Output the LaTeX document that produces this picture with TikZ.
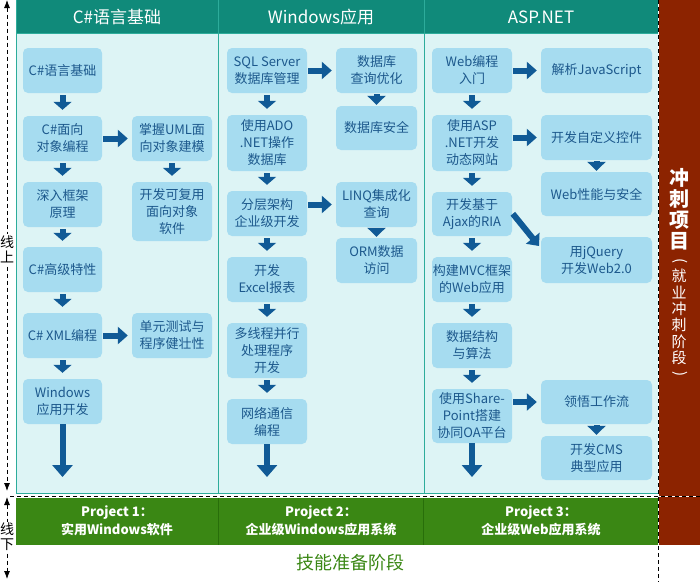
\documentclass[tikz,border=0pt]{standalone}
\usepackage{fontspec}
\setmainfont{Noto Sans CJK SC}
\usetikzlibrary{arrows.meta}
\definecolor{hdr}{RGB}{16,138,122}
\definecolor{bodyc}{RGB}{221,244,245}
\definecolor{colline}{RGB}{45,172,155}
\definecolor{boxc}{RGB}{166,220,240}
\definecolor{txtc}{RGB}{28,88,140}
\definecolor{arrc}{RGB}{16,90,150}
\definecolor{grn}{RGB}{58,135,20}
\definecolor{grnline}{RGB}{40,110,10}
\definecolor{sprint}{RGB}{140,35,0}
\newcommand\mybox[6]{\node[box,minimum width=#4pt,minimum height=#5pt] (#1) at (#2,#3) {#6};}
\begin{document}
\begin{tikzpicture}[x=1pt,y=-1pt,
  box/.style={fill=boxc, rounded corners=5pt, text=txtc, align=center, inner sep=0pt, font=\fontsize{13}{17}\selectfont},
  darr/.style={draw=arrc, line width=6pt, -{Triangle[length=8pt,width=18pt]}, shorten <=2pt, shorten >=6pt},
  tarr/.style={draw=arrc, line width=6pt, -{Triangle[length=9pt,width=18pt]}, shorten <=1pt, shorten >=1pt},
  rarr/.style={draw=arrc, line width=6pt, -{Triangle[length=10pt,width=17pt]}, shorten <=1pt, shorten >=4pt},
  larr/.style={draw=arrc, line width=6pt, -{Triangle[length=12pt,width=20pt]}},
  hdrtext/.style={text=white, font=\fontsize{17}{20}\selectfont},
  projtext/.style={text=white, align=center, font=\bfseries\fontsize{13}{18}\selectfont},
  axis/.style={draw=black, line width=0.8pt, dash pattern=on 4pt off 3pt, {Latex[length=8pt,width=6pt]}-{Latex[length=8pt,width=6pt]}},
  axistext/.style={fill=white, inner sep=1pt, align=center, font=\fontsize{14}{15}\selectfont},
  sprinttext/.style={text=white, align=center, inner sep=0pt, font=\fontsize{15}{16.4}\selectfont},
]
\useasboundingbox (0,0) rectangle (700,582);
% backgrounds
\fill[white] (0,0) rectangle (700,582);
\fill[hdr] (16,0) rectangle (658,33);
\fill[bodyc] (16,33) rectangle (658,493);
\draw[colline, line width=1pt] (16.5,0) -- (16.5,493) -- (658,493);
\draw[colline, line width=1pt] (16,33) -- (658,33);
\draw[colline, line width=1pt] (218,0) -- (218,493);
\draw[colline, line width=1pt] (424,0) -- (424,493);
\fill[grn] (16,498) rectangle (658,545);
\draw[grnline, line width=1pt] (218,498) -- (218,545);
\draw[grnline, line width=1pt] (423,498) -- (423,545);
\fill[sprint] (658,0) rectangle (700,545);
% dashed lines
\draw[white, line width=1pt] (10,496) -- (700,496);
\draw[black, line width=1pt, dash pattern=on 4pt off 3pt] (10,496) -- (700,496);
\draw[white, line width=1pt] (658,0) -- (658,582);
\draw[black, line width=1pt, dash pattern=on 4pt off 3pt] (658,0) -- (658,582);
% left axis
\coordinate (ax1) at (7,0);
\coordinate (ax2) at (7,491);
\coordinate (ax3) at (7,497);
\coordinate (ax4) at (7,579);
\draw[axis] (ax1) -- (ax2);
\draw[axis] (ax3) -- (ax4);
\node[axistext] (up) at (7,249) {线\\上};
\node[axistext] (down) at (7,537) {线\\下};
% headers
\node[hdrtext] (h1) at (117,17) {C\#语言基础};
\node[hdrtext] (h2) at (321,17) {Windows应用};
\node[hdrtext] (h3) at (541,17) {ASP.NET};
% column 1
\mybox{a1}{62.5}{70.5}{79}{45}{C\#语言基础}
\mybox{a2}{62.5}{138.5}{79}{45}{C\#面向\\对象编程}
\mybox{a3}{62.5}{204.5}{79}{45}{深入框架\\原理}
\mybox{a4}{62.5}{269.5}{79}{45}{C\#高级特性}
\mybox{a5}{62.5}{335.5}{79}{45}{C\# XML编程}
\mybox{a6}{62.5}{401.5}{79}{45}{Windows\\应用开发}
\mybox{b1}{172}{138.5}{80}{45}{掌握UML面\\向对象建模}
\mybox{b2}{172}{211.5}{80}{59}{开发可复用\\面向对象\\软件}
\mybox{b3}{172}{335.5}{80}{45}{单元测试与\\程序健壮性}
% column 2
\mybox{c1}{267}{70.5}{80}{45}{SQL Server\\数据库管理}
\mybox{c2}{267}{143}{80}{56}{使用ADO\\.NET操作\\数据库}
\mybox{c3}{267}{213.5}{80}{45}{分层架构\\企业级开发}
\mybox{c4}{267}{279.5}{80}{45}{开发\\Excel报表}
\mybox{c5}{267}{350.5}{80}{55}{多线程并行\\处理程序\\开发}
\mybox{c6}{267}{421.5}{80}{45}{网络通信\\编程}
\mybox{d1}{376.5}{70.5}{81}{45}{数据库\\查询优化}
\mybox{d2}{376.5}{128}{81}{44}{数据库安全}
\mybox{d3}{376.5}{204.5}{81}{45}{LINQ集成化\\查询}
\mybox{d4}{376.5}{260.5}{81}{45}{ORM数据\\访问}
% column 3
\mybox{e1}{472}{70.5}{80}{45}{Web编程\\入门}
\mybox{e2}{472}{143}{80}{56}{使用ASP\\.NET开发\\动态网站}
\mybox{e3}{472}{214}{80}{44}{开发基于\\Ajax的RIA}
\mybox{e4}{472}{279.5}{80}{45}{构建MVC框架\\的Web应用}
\mybox{e5}{472}{345.5}{80}{45}{数据结构\\与算法}
\mybox{e6}{472}{416}{80}{54}{使用Share-\\Point搭建\\协同OA平台}
\mybox{f1}{596.5}{70.5}{111}{45}{解析JavaScript}
\mybox{f2}{596.5}{137.5}{111}{45}{开发自定义控件}
\mybox{f3}{596.5}{194}{111}{44}{Web性能与安全}
\mybox{f4}{596.5}{260}{111}{46}{用jQuery\\开发Web2.0}
\mybox{f5}{596.5}{402}{111}{44}{领悟工作流}
\mybox{f6}{596.5}{458}{111}{44}{开发CMS\\典型应用}
% arrows column 1
\draw[darr] (a1.south) -- (a2.north);
\draw[darr] (a2.south) -- (a3.north);
\draw[darr] (a3.south) -- (a4.north);
\draw[darr] (a4.south) -- (a5.north);
\draw[darr] (a5.south) -- (a6.north);
\draw[darr] (b1.south) -- (b2.north);
\draw[rarr] (a2.east) -- (b1.west);
\draw[rarr] (a5.east) -- (b3.west);
\coordinate (a7) at (62.5,477);
\draw[larr] (a6.south) -- (a7);
% arrows column 2
\draw[darr] (c1.south) -- (c2.north);
\draw[darr] (c2.south) -- (c3.north);
\draw[darr] (c3.south) -- (c4.north);
\draw[darr] (c4.south) -- (c5.north);
\draw[darr] (c5.south) -- (c6.north);
\draw[tarr] (d1.south) -- (d2.north);
\draw[tarr] (d3.south) -- (d4.north);
\draw[rarr] (c1.east) -- (d1.west);
\draw[rarr] (c3.east |- d3.west) -- (d3.west);
\coordinate (c7) at (267,477);
\draw[larr] (c6.south) -- (c7);
% arrows column 3
\draw[darr] (e1.south) -- (e2.north);
\draw[darr] (e2.south) -- (e3.north);
\draw[darr] (e3.south) -- (e4.north);
\draw[darr] (e4.south) -- (e5.north);
\draw[darr] (e5.south) -- (e6.north);
\draw[tarr] (f2.south) -- (f3.north);
\draw[tarr] (f5.south) -- (f6.north);
\draw[rarr] (e1.east) -- (f1.west);
\draw[rarr] (e2.east |- f2.west) -- (f2.west);
\draw[rarr] (e6.east |- f5.west) -- (f5.west);
\coordinate (e8) at (539,246);
\draw[draw=arrc, line width=6pt, -{Triangle[length=10pt,width=17pt]}, shorten <=1pt] ([yshift=1pt]e3.east) -- (e8);
\coordinate (e7) at (472,477);
\draw[larr] (e6.south) -- (e7);
% projects
\node[projtext] (p1) at (117,521) {Project 1：\\实用Windows软件};
\node[projtext] (p2) at (321,521) {Project 2：\\企业级Windows应用系统};
\node[projtext] (p3) at (541,521) {Project 3：\\企业级Web应用系统};
\node[text=grn, font=\fontsize{18}{20}\selectfont] (skill) at (350,563) {技能准备阶段};
% sprint band
\node[text=white, align=center, inner sep=0pt, font=\bfseries\fontsize{20}{21}\selectfont] (sp1) at (679,209) {冲\\刺\\项\\目};
\node[sprinttext, rotate=-90] (lp) at (680,261) {(};
\node[sprinttext] (sp2) at (679,317) {就\\业\\冲\\刺\\阶\\段};
\node[sprinttext, rotate=-90] (rp) at (680,374) {)};
\end{tikzpicture}
\end{document}
